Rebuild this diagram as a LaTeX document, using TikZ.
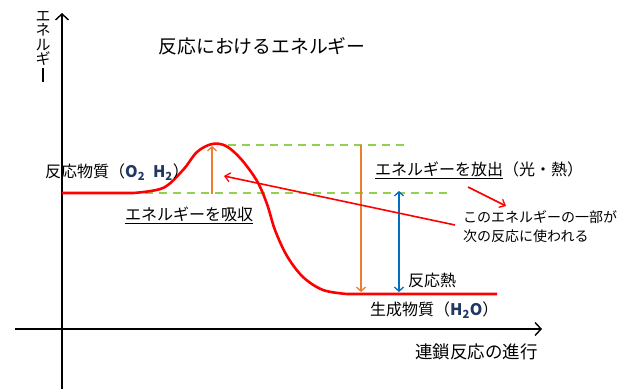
\documentclass[tikz,border=0pt]{standalone}
\usepackage{fontspec}
\setmainfont{Noto Sans CJK JP}
\usetikzlibrary{arrows.meta}
\definecolor{curvered}{HTML}{FF0000}
\definecolor{dashgreen}{HTML}{92D050}
\definecolor{arrorange}{HTML}{ED7D31}
\definecolor{arrblue}{HTML}{0070C0}
\definecolor{navytext}{HTML}{203864}
\tikzset{
  axisline/.style={line width=1.4pt,-{Straight Barb[length=6pt,width=13pt,line width=1.4pt]}},
  lvl/.style={dashgreen,line width=1.6pt,dash pattern=on 8pt off 6pt},
  energyarrow/.style={line width=1.8pt},
  barbtip/.tip={Straight Barb[length=4pt,width=9pt,line width=1.3pt]},
  redtip/.tip={Straight Barb[length=5pt,width=9pt,line width=1.3pt]},
  lbl/.style={inner sep=0pt,font=\fontsize{16}{18}\selectfont},
  note/.style={inner sep=0pt,font=\fontsize{14}{19}\selectfont,align=left},
}
\newcommand{\chem}[1]{{\color{navytext}\bfseries #1}}
\begin{document}
\begin{tikzpicture}[x=1pt,y=-1pt]
\useasboundingbox (0,0) rectangle (628,389);
% axes
\coordinate (yb) at (62,389);
\coordinate (yt) at (62,13);
\coordinate (xl) at (15,329);
\coordinate (xr) at (542,329);
\draw[axisline] (yb) -- (yt);
\draw[axisline] (xl) -- (xr);
\node[inner sep=0pt,font=\fontsize{15}{14.5}\selectfont,align=center,anchor=north] (ylab) at (43,11)
  {エ\\ネ\\ル\\ギ\\[1pt]\rule{1.4pt}{14pt}};
\node[lbl,anchor=west,font=\fontsize{17.5}{19}\selectfont] (xlab) at (415,352) {連鎖反応の進行};
% title
\node[lbl,font=\fontsize{18.8}{20}\selectfont] (title) at (262,46) {反応におけるエネルギー};
% levels
\coordinate (topl) at (228,145);
\coordinate (topr) at (410,145);
\coordinate (midl) at (145,193);
\coordinate (midr) at (452,193);
\draw[lvl] (topl) -- (topr);
\draw[lvl] (midl) -- (midr);
% curve
\draw[curvered,line width=2.6pt,line join=round] (62,193) -- (133,193)
  plot[smooth,tension=0.55] coordinates {(133,193) (163,188) (183,170) (197,152) (212,144) (226,146) (241,159) (257,181) (267,204) (275,230) (287,256) (303,277) (323,290) (347,294)}
  -- (497,294);
% energy arrows
\coordinate (a1b) at (212,194);
\coordinate (a1t) at (212,146);
\draw[arrorange,energyarrow,-{barbtip}] (a1b) -- (a1t);
\coordinate (a2t) at (361,145);
\coordinate (a2b) at (361,292);
\draw[arrorange,energyarrow,-{barbtip}] (a2t) -- (a2b);
\coordinate (a3t) at (399,191);
\coordinate (a3b) at (399,292);
\draw[arrblue,energyarrow,{barbtip}-{barbtip}] (a3t) -- (a3b);
% labels
\node[lbl,anchor=west] (react) at (45,172) {反応物質（\chem{O\textsubscript{2}\hspace{0.5em}H\textsubscript{2}}）};
\node[lbl,anchor=west] (absorb) at (125,215) {\underline{エネルギーを吸収}};
\node[lbl,anchor=west] (release) at (375,170) {\underline{エネルギーを放出}（光・熱）};
\node[lbl,anchor=west] (heat) at (408,280) {反応熱};
\node[lbl,anchor=west] (prod) at (370,310) {生成物質（\chem{H\textsubscript{2}O}）};
\node[note,anchor=north west] (part) at (463,210) {このエネルギーの一部が\\次の反応に使われる};
% red pointer arrows
\coordinate (r1s) at (455,225);
\coordinate (r1e) at (224,176);
\draw[curvered,line width=1.6pt,-{redtip}] (r1s) -- (r1e);
\coordinate (r2s) at (468,187);
\coordinate (r2e) at (506,206);
\draw[curvered,line width=1.6pt,-{redtip}] (r2s) -- (r2e);
\end{tikzpicture}
\end{document}
